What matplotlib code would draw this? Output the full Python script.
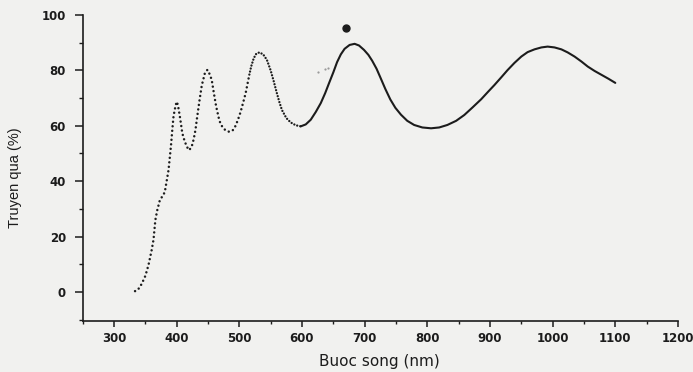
import numpy as np
import matplotlib
matplotlib.use("Agg")
import matplotlib.pyplot as plt
from matplotlib.ticker import MultipleLocator

# transmission spectrum
wavelength = [333.6, 338, 342, 346, 350, 355, 360, 363, 366, 369, 373, 377, 381,
              384, 387, 389, 391, 393, 395, 398, 400, 402, 405, 407, 409, 412,
              416, 420, 424, 427, 430, 432, 436, 440, 445, 449, 453, 456, 459, 463,
              468, 471, 475, 479, 483, 487, 490, 494, 498, 502, 506, 510, 516, 519,
              523, 527, 532, 538, 544, 550, 555, 560, 564, 568, 575, 582, 590, 598,
              606, 614, 622, 630, 637, 643, 650, 656, 662, 668, 676, 684, 691, 699,
              706, 712, 719, 725, 733, 741, 749, 758, 768, 779, 792, 806, 819, 832,
              846, 859, 872, 886, 897, 907, 918, 928, 939, 950, 960, 971, 982, 992,
              1003, 1014, 1024, 1035, 1046, 1056, 1067, 1078, 1089, 1100]
transmission = [0.3, 0.8, 2.0, 3.8, 5.8, 9.7, 15, 18.8, 26, 29.5, 33, 34.5, 36,
                40, 44, 48.5, 53, 58.5, 63.5, 67, 68.7, 67.5, 63.5, 60.5, 57.3, 55,
                52.5, 51.2, 52.5, 55, 58.5, 62, 68.5, 74.5, 79, 80.2, 78.5, 76.5, 72.3, 67,
                62, 60.3, 59, 58.2, 57.9, 58.0, 58.5, 60, 62.3, 65, 68.3, 71.7, 78.5, 81.5,
                84.4, 86, 86.5, 85.8, 83.8, 80, 76, 71.7, 68.5, 65.7, 62.8, 61.2, 60.2, 59.8,
                60.5, 62.2, 65, 68.2, 71.8, 75.3, 79.3, 83, 85.8, 87.8, 89.2, 89.6, 89.0, 87.4,
                85.6, 83.5, 80.6, 77.5, 73.3, 69.5, 66.5, 64, 61.8, 60.3, 59.4, 59.1, 59.4, 60.3,
                61.8, 63.9, 66.6, 69.6, 72.3, 74.7, 77.5, 80.1, 82.7, 85, 86.6, 87.6, 88.3, 88.6,
                88.3, 87.6, 86.5, 85, 83.2, 81.4, 79.8, 78.4, 77, 75.5]

# stray marks on the scan
blot_x = [671]
blot_y = [95.2]
speck_x = [626, 636, 641]
speck_y = [79.5, 80.5, 80.8]

x_ticks = [300, 400, 500, 600, 700, 800, 900, 1000, 1100, 1200]
y_ticks = [0, 20, 40, 60, 80, 100]

wl = np.array(wavelength)
tr = np.array(transmission)

ink = '#1c1c1c'
paper = '#f1f1ef'
fig = plt.figure(figsize=(6.93, 3.72), dpi=100)
fig.patch.set_facecolor(paper)
ax = fig.add_axes([0.1193, 0.137, 0.859, 0.8226])
ax.set_facecolor(paper)

# sparse dots, denser dots, then a solid trace
m1 = wl <= 516
m2 = (wl >= 516) & (wl <= 598)
m3 = wl >= 598
ax.plot(wl[m1], tr[m1], color=ink, lw=1.8, linestyle=(0, (0.01, 1.8)),
        dash_capstyle='round')
ax.plot(wl[m2], tr[m2], color=ink, lw=1.7, linestyle=(0, (0.01, 1.3)),
        dash_capstyle='round')
ax.plot(wl[m3], tr[m3], color=ink, lw=1.5, solid_capstyle='round',
        solid_joinstyle='round')

ax.plot(blot_x, blot_y, 'o', color=ink, ms=5)
ax.plot(speck_x, speck_y, 'o', color='#9a9a9a', ms=1.6, mec='none')

ax.set_xlim(250, 1200)
ax.set_ylim(-10.5, 100)
ax.set_xticks(x_ticks)
ax.set_yticks(y_ticks)
ax.xaxis.set_minor_locator(MultipleLocator(50))
ax.yaxis.set_minor_locator(MultipleLocator(10))

for s in ['top', 'right']:
    ax.spines[s].set_visible(False)
for s in ['left', 'bottom']:
    ax.spines[s].set_color(ink)
    ax.spines[s].set_linewidth(1.2)

ax.tick_params(axis='y', which='major', direction='out', length=6, width=1.1,
               color=ink, pad=6, labelsize=8.5, labelcolor=ink)
ax.tick_params(axis='y', which='minor', direction='out', length=3, width=1,
               color=ink)
ax.tick_params(axis='x', which='major', direction='out', length=4, width=1.1,
               color=ink, pad=4, labelsize=8.5, labelcolor=ink)
ax.tick_params(axis='x', which='minor', direction='out', length=2.5, width=1,
               color=ink)
for lab in ax.get_xticklabels() + ax.get_yticklabels():
    lab.set_fontfamily('DejaVu Sans')
    lab.set_fontweight('bold')

ax.set_xlabel('Buoc song (nm)', fontsize=11, family='DejaVu Sans',
              color=ink)
ax.set_ylabel('Truyen qua (%)', fontsize=10.5, family='Liberation Sans',
              color=ink)
ax.xaxis.set_label_coords(0.498, -0.108)
ax.yaxis.set_label_coords(-0.102, 0.469)

fig.savefig('out.png', dpi=100, facecolor=fig.get_facecolor())
